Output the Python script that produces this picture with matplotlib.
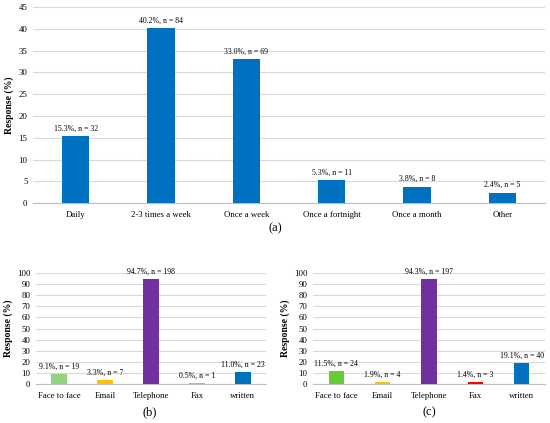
import matplotlib.pyplot as plt

# Dados
freq_cats = ['Daily', '2-3 times a week', 'Once a week', 'Once a fortnight', 'Once a month', 'Other']
freq_pct = [15.3, 40.2, 33.0, 5.3, 3.8, 2.4]
freq_n = [32, 84, 69, 11, 8, 5]

mode_cats = ['Face to face', 'Email', 'Telephone', 'Fax', 'written']
b_pct = [9.1, 3.3, 94.7, 0.5, 11.0]
b_n = [19, 7, 198, 1, 23]
c_pct = [11.5, 1.9, 94.3, 1.4, 19.1]
c_n = [24, 4, 197, 3, 40]

b_colors = ['#92D37F', '#FFC000', '#7030A0', '#FF9A9A', '#0070C0']
c_colors = ['#66CC33', '#FFC000', '#7030A0', '#FF0000', '#0070C0']

plt.rcParams['font.family'] = ['Liberation Serif', 'DejaVu Serif']

fig = plt.figure(figsize=(5.5, 4.23), dpi=100)
ax_a = fig.add_axes([0.060, 0.520, 0.931, 0.463])
ax_b = fig.add_axes([0.0655, 0.0922, 0.418, 0.2624])
ax_c = fig.add_axes([0.569, 0.0922, 0.422, 0.2624])


def draw(ax, cats, pct, n, colors, ymax, step, width):
    x = range(len(cats))
    ax.bar(x, pct, width=width, color=colors, zorder=3)
    for xi, p, k in zip(x, pct, n):
        ax.annotate(f'{p:.1f}%, n = {k}', (xi, p), xytext=(0, 2.5), textcoords='offset points',
                    ha='center', va='bottom', fontsize=5.6)
    ax.set_xlim(-0.5, len(cats) - 0.5)
    ax.set_ylim(0, ymax)
    ax.set_yticks(range(0, ymax + 1, step))
    ax.set_xticks(list(x))
    ax.set_xticklabels(cats)
    ax.tick_params(axis='both', length=0, labelsize=6.3)
    ax.tick_params(axis='y', pad=4)
    ax.tick_params(axis='x', pad=6)
    ax.grid(axis='y', color='#D9D9D9', linewidth=0.8, zorder=0)
    for s in ['top', 'right', 'left']:
        ax.spines[s].set_visible(False)
    ax.spines['bottom'].set_color('#BFBFBF')
    ax.set_ylabel('Response (%)', fontsize=7, fontweight='bold', labelpad=3)


draw(ax_a, freq_cats, freq_pct, freq_n, '#0070C0', 45, 5, 0.32)
draw(ax_b, mode_cats, b_pct, b_n, b_colors, 100, 10, 0.33)
draw(ax_c, mode_cats, c_pct, c_n, c_colors, 100, 10, 0.33)

fig.text(0.5, 1 - 228 / 423, '(a)', ha='center', va='center', fontsize=9)
fig.text(150 / 550, 1 - 412 / 423, '(b)', ha='center', va='center', fontsize=9)
fig.text(429 / 550, 1 - 412 / 423, '(c)', ha='center', va='center', fontsize=9)

plt.savefig('out.png', dpi=100)
